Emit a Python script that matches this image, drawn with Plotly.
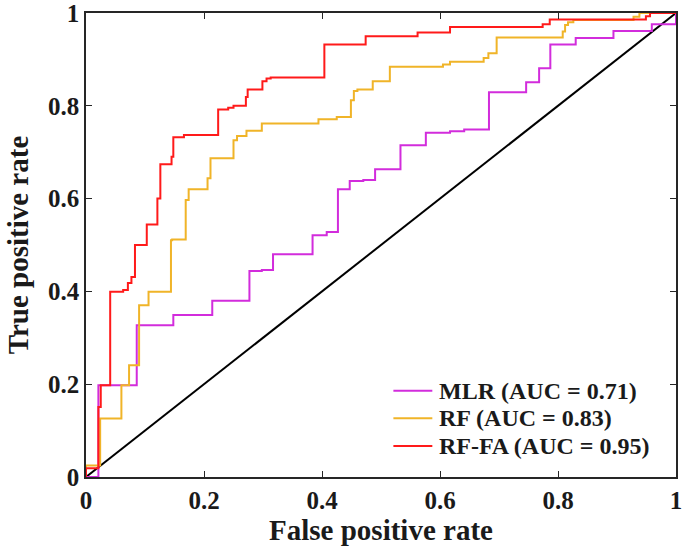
import plotly.graph_objects as go

# ROC step curves (false positive rate, true positive rate)
mlr_fpr = [0, 0.021, 0.086, 0.148, 0.214, 0.277, 0.298, 0.317, 0.384, 0.408, 0.427,
           0.447, 0.470, 0.490, 0.533, 0.576, 0.617, 0.641, 0.683, 0.746, 0.768,
           0.787, 0.830, 0.894, 0.959, 1.0, 1.0]
mlr_tpr = [0, 0.198, 0.327, 0.349, 0.380, 0.444, 0.446, 0.480, 0.521, 0.528, 0.620,
           0.638, 0.640, 0.663, 0.715, 0.742, 0.745, 0.749, 0.829, 0.851, 0.881,
           0.932, 0.946, 0.961, 0.976, 0.976, 1.0]

rf_fpr = [0, 0, 0.024, 0.060, 0.073, 0.090, 0.106, 0.144, 0.146, 0.169, 0.174, 0.206,
          0.211, 0.250, 0.256, 0.272, 0.298, 0.394, 0.425, 0.449, 0.454, 0.460,
          0.486, 0.515, 0.605, 0.617, 0.674, 0.682, 0.696, 0.808, 0.812, 0.817,
          0.826, 0.928, 0.938, 1.0]
rf_tpr = [0, 0.025, 0.126, 0.198, 0.241, 0.370, 0.399, 0.510, 0.512, 0.597, 0.620, 0.644,
          0.687, 0.726, 0.735, 0.746, 0.762, 0.771, 0.776, 0.812, 0.832, 0.835,
          0.853, 0.884, 0.889, 0.895, 0.903, 0.913, 0.947, 0.960, 0.974, 0.980,
          0.985, 0.992, 1.0, 1.0]

rffa_fpr = [0, 0, 0.021, 0.025, 0.041, 0.063, 0.071, 0.077, 0.083, 0.103, 0.121, 0.126,
            0.145, 0.148, 0.166, 0.224, 0.241, 0.250, 0.271, 0.274, 0.299, 0.306,
            0.313, 0.404, 0.474, 0.562, 0.617, 0.774, 0.786, 0.949, 0.956, 1.0]
rffa_tpr = [0, 0.019, 0.151, 0.198, 0.399, 0.403, 0.418, 0.431, 0.500, 0.544, 0.600, 0.674,
            0.690, 0.732, 0.737, 0.792, 0.796, 0.800, 0.819, 0.835, 0.853, 0.859,
            0.861, 0.932, 0.950, 0.958, 0.970, 0.976, 0.986, 0.993, 1.0, 1.0]

chance = [0, 1]

names = ["MLR (AUC = 0.71)", "RF (AUC = 0.83)", "RF-FA (AUC = 0.95)"]
colors = ["#d22cdc", "#f0b428", "#ff1a1a"]

tick_vals = [0, 0.2, 0.4, 0.6, 0.8, 1]
tick_text = ["0", "0.2", "0.4", "0.6", "0.8", "1"]

FONT = "Liberation Serif, Times New Roman, serif"
TXT = "#1a1a1a"

fig = go.Figure()
fig.add_trace(go.Scatter(x=chance, y=chance, mode="lines", showlegend=False,
                         line=dict(color="black", width=2), hoverinfo="skip"))
for xs, ys, nm, c in zip([mlr_fpr, rf_fpr, rffa_fpr], [mlr_tpr, rf_tpr, rffa_tpr], names, colors):
    fig.add_trace(go.Scatter(x=xs, y=ys, mode="lines", name=nm, showlegend=False,
                             line=dict(color=c, width=2, shape="hv")))

axis_common = dict(
    range=[0, 1], tickvals=tick_vals, ticktext=tick_text, automargin=False,
    ticklabeloverflow="allow",
    showgrid=False, zeroline=False, showline=True, linecolor="#262626", linewidth=1.5,
    mirror="ticks", ticks="inside", ticklen=6, tickwidth=1.2, tickcolor="#262626",
    tickfont=dict(family=FONT, size=25, color=TXT, weight="bold"),
)

fig.update_layout(
    width=685, height=558,
    margin=dict(l=86, r=9, t=13, b=81),
    paper_bgcolor="white", plot_bgcolor="white",
    xaxis=dict(**axis_common,
               title=dict(text="False positive rate", standoff=6,
                          font=dict(family=FONT, size=29, color=TXT, weight="bold"))),
    yaxis=dict(**axis_common,
               title=dict(text="True positive rate", standoff=11,
                          font=dict(family=FONT, size=29, color=TXT, weight="bold"))),
    showlegend=False,
)

# Legend drawn as key lines + labels inside the axes (paper coordinates)
leg_x0, leg_x1, leg_tx = 0.521, 0.587, 0.595
leg_y_top, leg_dy = 0.186, 0.0595
for i, (nm, c) in enumerate(zip(names, colors)):
    yy = leg_y_top - i * leg_dy
    fig.add_shape(type="line", xref="paper", yref="paper", x0=leg_x0, x1=leg_x1,
                  y0=yy, y1=yy, line=dict(color=c, width=2))
    fig.add_annotation(xref="paper", yref="paper", x=leg_tx, y=yy, text=nm,
                       showarrow=False, xanchor="left", yanchor="middle",
                       font=dict(family=FONT, size=24, color=TXT, weight="bold"))

fig.write_html("out.html", config={"displayModeBar": False},
               post_script="document.body.style.margin='0';document.body.style.overflow='hidden';")
